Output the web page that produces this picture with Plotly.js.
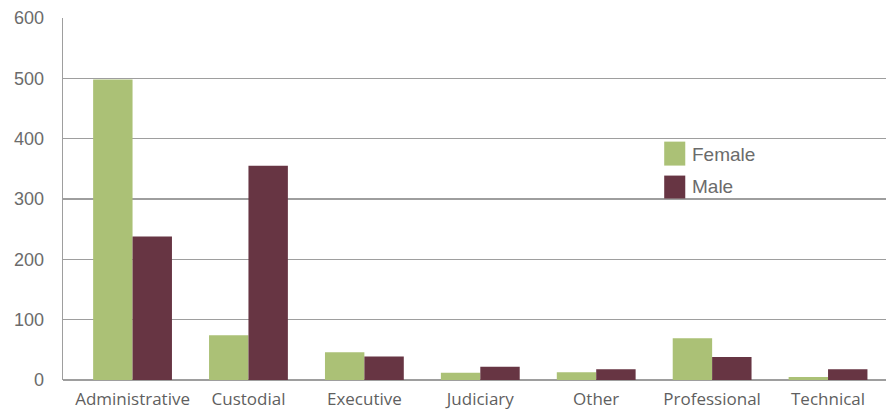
<!DOCTYPE html>
<html>
<head>
<meta charset="utf-8">
<script src="https://cdn.plot.ly/plotly-3.0.1.min.js"></script>
<style>html,body{margin:0;padding:0;background:#fff;}#chart{width:888px;height:414px;}</style>
</head>
<body>
<div id="chart"></div>
<script>
const categories = ["Administrative", "Custodial", "Executive", "Judiciary", "Other", "Professional", "Technical"];
const femaleValues = [498, 74, 46, 12, 13, 69, 5];
const maleValues = [238, 355, 39, 22, 18, 38, 18];
const yTicks = [0, 100, 200, 300, 400, 500, 600];
const seriesNames = ["Female", "Male"];
const seriesColors = ['#abc176', '#673543'];

const traces = [
  {type: 'bar', name: seriesNames[0], x: categories, y: femaleValues,
   marker: {color: seriesColors[0], line: {width: 0}}},
  {type: 'bar', name: seriesNames[1], x: categories, y: maleValues,
   marker: {color: seriesColors[1], line: {width: 0}}}
];

// custom legend (larger swatches like the reference)
const legendX0 = 0.7305, legendX1 = 0.7561, legendTextX = 0.7615;
const legendRows = [{y0: 0.5923, y1: 0.6585, ty: 0.6226}, {y0: 0.5014, y1: 0.5647, ty: 0.5344}];
const shapes = legendRows.map((r, i) => ({
  type: 'rect', xref: 'paper', yref: 'paper', x0: legendX0, x1: legendX1, y0: r.y0, y1: r.y1,
  fillcolor: seriesColors[i], line: {width: 0}
}));
const annotations = legendRows.map((r, i) => ({
  xref: 'paper', yref: 'paper', x: legendTextX, y: r.ty, xanchor: 'left', yanchor: 'middle',
  text: seriesNames[i], showarrow: false,
  font: {family: 'Liberation Sans, Arial, sans-serif', size: 19, color: '#6b6b6b'}
}));

const layout = {
  width: 888, height: 414,
  margin: {l: 63, r: 2, t: 18, b: 34, pad: 0},
  paper_bgcolor: '#ffffff', plot_bgcolor: '#ffffff',
  barmode: 'group', bargap: 0.32, bargroupgap: 0,
  showlegend: false,
  shapes: shapes,
  annotations: annotations,
  xaxis: {type: 'category', range: [-0.6, 6.5], showgrid: false, zeroline: false,
          showline: false, ticks: 'outside', ticklen: 4, tickcolor: 'rgba(0,0,0,0)',
          tickfont: {family: 'Open Sans, sans-serif', size: 17, color: '#5f5f5f'}},
  yaxis: {range: [0, 600], tickvals: yTicks, ticktext: yTicks.map(String),
          showgrid: true, gridcolor: '#9e9e9e', gridwidth: 1.4,
          zeroline: true, zerolinecolor: '#9e9e9e', zerolinewidth: 1.4,
          showline: true, linecolor: '#9e9e9e', linewidth: 1.4, mirror: false,
          ticks: 'outside', ticklen: 14, tickcolor: 'rgba(0,0,0,0)',
          tickfont: {family: 'Liberation Sans, Arial, sans-serif', size: 18, color: '#6b6b6b'}},
  font: {family: 'Liberation Sans, Arial, sans-serif'}
};

Plotly.newPlot('chart', traces, layout, {displayModeBar: false, staticPlot: true});
</script>
</body>
</html>
